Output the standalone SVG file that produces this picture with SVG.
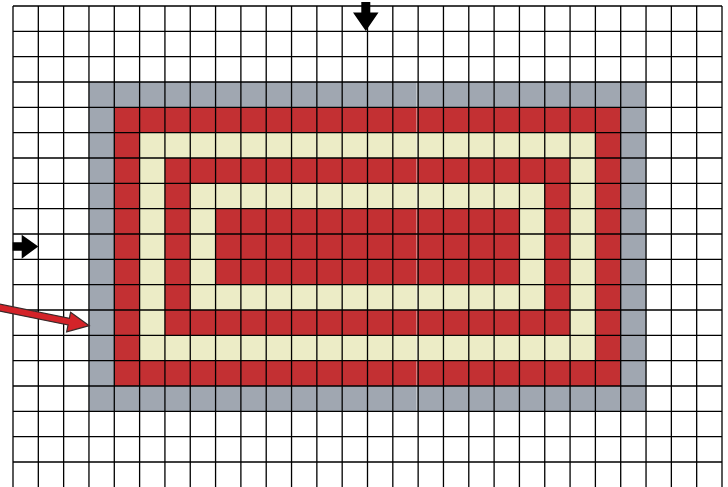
<svg xmlns="http://www.w3.org/2000/svg" width="728" height="487" viewBox="0 0 728 487">
<style>
.grid{fill:none;stroke:#000;stroke-width:1.3}
.gray{fill:#a0a7b1}
.red{fill:#c33033}
.cream{fill:#ececc6}
.blk{fill:#000}
</style>
<rect width="728" height="487" fill="#fff"/>
<g id="rings">
<rect id="ring-gray" class="gray" x="88.96" y="82" width="557.08" height="329.33"/>
<rect id="ring-red1" class="red" x="114.29" y="107.33" width="506.42" height="278.67"/>
<rect id="ring-cream1" class="cream" x="139.61" y="132.67" width="455.78" height="228"/>
<rect id="ring-red2" class="red" x="164.93" y="158" width="405.14" height="177.33"/>
<rect id="ring-cream2" class="cream" x="190.25" y="183.33" width="354.5" height="126.67"/>
<rect id="core-red" class="red" x="215.57" y="208.67" width="303.86" height="76"/>
<line x1="416.8" y1="82" x2="416.8" y2="411.33" stroke="#f4f4f4" stroke-width="0.8" opacity="0.7"/>
</g>
<g id="grid">
<path class="grid" d="M13 6V487M38.32 6V487M63.64 6V487M88.96 6V487M114.29 6V487M139.61 6V487M164.93 6V487M190.25 6V487M215.57 6V487M240.89 6V487M266.21 6V487M291.54 6V487M316.86 6V487M342.18 6V487M367.5 6V487M392.82 6V487M418.14 6V487M443.46 6V487M468.79 6V487M494.11 6V487M519.43 6V487M544.75 6V487M570.07 6V487M595.39 6V487M620.71 6V487M646.04 6V487M671.36 6V487M696.68 6V487M722 6V487M13 6H722M13 31.33H722M13 56.67H722M13 82H722M13 107.33H722M13 132.67H722M13 158H722M13 183.33H722M13 208.67H722M13 234H722M13 259.33H722M13 284.67H722M13 310H722M13 335.33H722M13 360.67H722M13 386H722M13 411.33H722M13 436.67H722M13 462H722"/>
</g>
<g id="connectors">
<polygon id="arrow-top" class="blk" points="361.3,2 370.3,2 370.3,12.5 378.5,12.5 365.8,31 353,12.5 361.3,12.5"/>
<polygon id="arrow-left" class="blk" points="12.7,242.3 21.7,242.3 21.7,234.7 38.3,246.5 21.7,258.7 21.7,250.7 12.7,250.7"/>
<polygon id="arrow-red" fill="#d42329" stroke="#3a2a2a" stroke-width="1.2" stroke-linejoin="miter" transform="translate(89.3,325.7) rotate(11.4)" points="0,0 -21,10.5 -21,3.4 -110,3.4 -110,-3.4 -21,-3.4 -21,-9.5"/>
</g>
</svg>
